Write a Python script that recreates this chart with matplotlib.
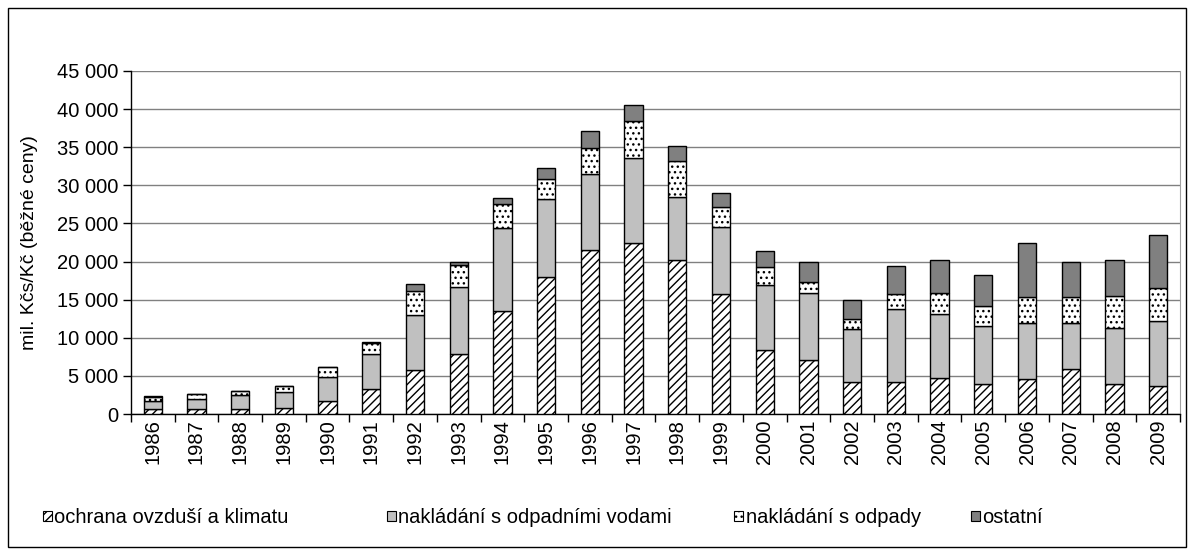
import matplotlib
matplotlib.use("Agg")
import matplotlib.pyplot as plt
from matplotlib.patches import Rectangle, Patch
from matplotlib.ticker import FuncFormatter, FixedLocator
import numpy as np

plt.rcParams['font.family'] = ['Liberation Sans', 'DejaVu Sans']
plt.rcParams['hatch.linewidth'] = 1.0

years = [str(y) for y in range(1986, 2010)]

# mil. Kcs/Kc
ovzdusi = [0.62, 0.70, 0.62, 0.75, 1.75, 3.24, 5.77, 7.87, 13.51, 17.93, 21.52, 22.40,
           20.20, 15.78, 8.44, 7.05, 4.16, 4.20, 4.68, 3.94, 4.55, 5.90, 3.90, 3.63]
vody = [1.13, 1.23, 1.84, 2.18, 3.15, 4.63, 7.22, 8.75, 10.85, 10.24, 9.93, 11.19,
        8.31, 8.80, 8.53, 8.78, 7.03, 9.54, 8.44, 7.61, 7.35, 6.00, 7.42, 8.57]
odpady = [0.52, 0.66, 0.56, 0.75, 1.23, 1.39, 3.11, 2.93, 3.15, 2.70, 3.49, 4.81,
          4.64, 2.62, 2.28, 1.53, 1.27, 2.04, 2.79, 2.58, 3.41, 3.45, 4.16, 4.33]
ostatni = [0.05, 0.05, 0.05, 0.05, 0.08, 0.15, 0.96, 0.40, 0.79, 1.44, 2.15, 2.18,
           2.05, 1.79, 2.17, 2.58, 2.50, 3.64, 4.33, 4.15, 7.16, 4.59, 4.76, 6.99]

labels = ['ochrana ovzduší a klimatu', 'nakládání s odpadními vodami',
          'nakládání s odpady', 'ostatní']

series = [np.array(s) * 1000 for s in (ovzdusi, vody, odpady, ostatni)]
styles = [dict(facecolor='white', hatch='////'),
          dict(facecolor='#c0c0c0'),
          dict(facecolor='white', hatch='...'),
          dict(facecolor='#808080')]

fig = plt.figure(figsize=(11.9, 5.49), dpi=100)
ax = fig.add_axes([0.110, 0.2459, 0.8816, 0.6248])

x = np.arange(len(years))
bottom = np.zeros(len(years))
handles = []
for vals, st, lab in zip(series, styles, labels):
    ax.bar(x, vals, 0.42, bottom=bottom, edgecolor='black', linewidth=1.0,
           label=lab, zorder=3, **st)
    bottom += vals
    handles.append(Patch(edgecolor='black', linewidth=0.8, label=lab, **st))

ax.set_xlim(-0.5, len(years) - 0.5)
ax.set_ylim(0, 45000)
ax.set_yticks(np.arange(0, 45001, 5000))
ax.yaxis.set_major_formatter(FuncFormatter(lambda v, p: f'{int(v):,}'.replace(',', ' ')))
ax.yaxis.grid(True, color='#808080', linewidth=1.0, zorder=0)

ax.set_xticks(x)
ax.set_xticklabels(years, rotation=90)
ax.xaxis.set_minor_locator(FixedLocator(np.arange(-0.5, len(years), 1)))
ax.tick_params(axis='x', which='major', length=0, pad=4, labelsize=14.5)
ax.tick_params(axis='x', which='minor', length=6, width=1, color='black', direction='out')
ax.tick_params(axis='y', length=6, width=1, labelsize=14.5, pad=3)

ax.spines['top'].set_visible(False)
ax.spines['right'].set_color('#a0a0a0')
ax.spines['left'].set_linewidth(1.0)
ax.spines['bottom'].set_linewidth(1.0)

ax.set_ylabel('mil. Kčs/Kč (běžné ceny)', fontsize=14, labelpad=14)

# legend entries placed along the bottom like the original
leg_x = [0.036, 0.325, 0.617, 0.816]
for h, lx in zip(handles, leg_x):
    fig.legend(handles=[h], loc='center left', bbox_to_anchor=(lx, 0.057),
               frameon=False, fontsize=14.5, handlelength=0.45, handleheight=0.45,
               handletextpad=0.12, borderpad=0, borderaxespad=0)

fig.patches.append(Rectangle((8 / 1190, 2 / 549), 1178 / 1190, 539 / 549,
                             transform=fig.transFigure, fill=False,
                             edgecolor='black', linewidth=1.0))

fig.savefig('out.png', dpi=100)
